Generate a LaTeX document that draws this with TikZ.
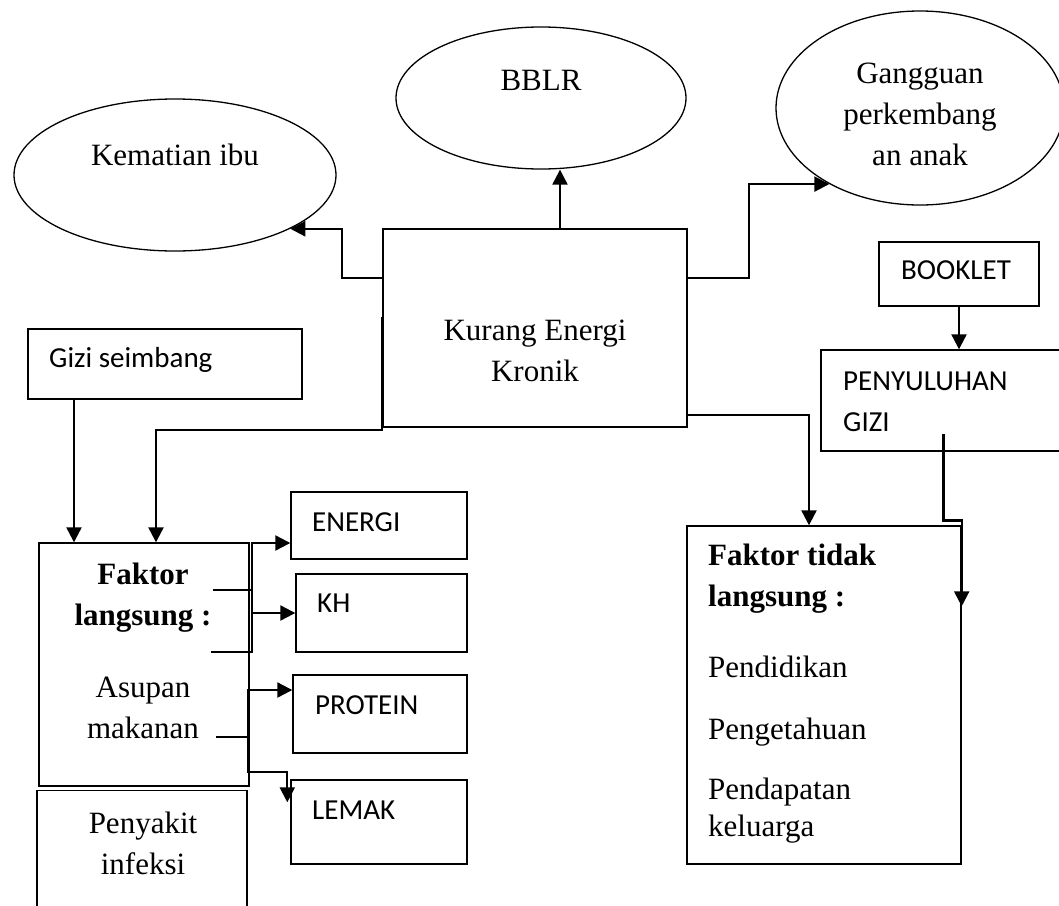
\documentclass[tikz,border=0pt]{standalone}
\usepackage{fontspec}
\setmainfont{Liberation Serif}
\newfontfamily\calibri{Carlito}
\usetikzlibrary{shapes.geometric, arrows.meta, positioning}

\begin{document}
\begin{tikzpicture}[
    x=1pt, y=-1pt,
    oval/.style={draw, ellipse, line width=1.3pt, inner sep=0pt},
    box/.style={draw, line width=1.4pt, inner sep=0pt},
    serif/.style={font=\fontsize{31}{41}\selectfont, align=center, inner sep=0pt},
    boldserif/.style={serif, font=\fontsize{31}{41}\selectfont\bfseries},
    sans/.style={font=\calibri\fontsize{29}{41}\selectfont, align=left, inner sep=0pt, anchor=west},
    link/.style={line width=2.2pt},
    arr/.style={link, -{Triangle[length=15pt, width=15pt]}}
]
    \useasboundingbox (0,0) rectangle (1059,905);
    \clip (0,0) rectangle (1059,905);

    % Akibat
    \node[oval, minimum width=322, minimum height=152] (ibu) at (175,175) {};
    \node[serif] (ibutxt) at (175,155) {Kematian ibu};
    \node[oval, minimum width=290, minimum height=142] (bblr) at (541,98) {};
    \node[serif] (bblrtxt) at (541,80) {BBLR};
    \node[oval, minimum width=288, minimum height=194] (gangguan) at (920,108) {};
    \node[serif] (gangguantxt) at (920,114) {Gangguan\\perkembang\\an anak};

    % KEK
    \node[box, minimum width=304, minimum height=198] (kek) at (535,328) {};
    \node[serif] (kektxt) at (535,351) {Kurang Energi\\Kronik};

    % Intervensi
    \node[box, minimum width=274, minimum height=70] (gizi) at (165,364) {};
    \node[sans] (gizitxt) at (49,360) {Gizi seimbang};
    \node[box, minimum width=160, minimum height=64] (booklet) at (959,274) {};
    \node[sans] (booklettxt) at (901,270) {BOOKLET};
    \node[box, minimum width=259, minimum height=101] (penyuluhan) at (950.5,400.5) {};
    \node[sans] (penyuluhantxt) at (843,402) {PENYULUHAN\\GIZI};

    % Faktor langsung
    \node[box, minimum width=210, minimum height=243] (flang) at (144,664.5) {};
    \node[boldserif] (flangtxt) at (143,598) {Faktor\\langsung :};
    \node[serif] (asupantxt) at (143,708) {Asupan\\makanan};
    \node[box, minimum width=210, minimum height=139] (infeksi) at (142,860) {};
    \node[serif] (infeksitxt) at (143,843) {Penyakit\\infeksi};

    % Zat gizi
    \node[box, minimum width=176, minimum height=67] (energi) at (379,525.5) {};
    \node[sans] (energitxt) at (312,522) {ENERGI};
    \node[box, minimum width=171, minimum height=78] (kh) at (381.5,613) {};
    \node[sans] (khtxt) at (317,603) {KH};
    \node[box, minimum width=174, minimum height=78] (protein) at (380,714) {};
    \node[sans] (proteintxt) at (315,705) {PROTEIN};
    \node[box, minimum width=176, minimum height=84] (lemak) at (379,822) {};
    \node[sans] (lemaktxt) at (312,810) {LEMAK};

    % Faktor tidak langsung
    \node[box, minimum width=274, minimum height=338] (ftl) at (824,695) {};
    \node[boldserif, anchor=west, align=left] (ftltxt) at (708,579) {Faktor tidak\\langsung :};
    \node[serif, anchor=west] (didiktxt) at (708,667) {Pendidikan};
    \node[serif, anchor=west] (tahutxt) at (708,732) {Pengetahuan};
    \node[serif, anchor=west, align=left, font=\fontsize{31}{37}\selectfont] (dapattxt) at (708,811) {Pendapatan\\keluarga};

    % Titik cabang
    \coordinate (s1) at (213,590);
    \coordinate (s2) at (211,652);
    \coordinate (s3) at (216,737);
    \coordinate (j1) at (252,543);
    \coordinate (j2) at (248,690);
    \coordinate (j3) at (248,772);

    % Panah dari KEK
    \draw[arr] ([yshift=50pt]kek.west) -- ++(-40,0) |- (ibu.-25);
    \draw[arr] ([xshift=25pt]kek.north) -- ([xshift=19pt]bblr.south);
    \draw[arr] ([yshift=50pt]kek.east) -- ++(61,0) |- (gangguan.220);
    \draw[arr] ([yshift=-87pt]kek.east) -| ([xshift=-15pt]ftl.north);
    \draw[arr] ([yshift=11pt]kek.west) -- ++(0,113) -| ([xshift=12pt]flang.north);

    % Panah intervensi
    \draw[arr] ([xshift=-91pt]gizi.south) -- ([xshift=-70pt]flang.north);
    \draw[arr] (booklet.south) -- (booklet.south |- penyuluhan.north);
    \draw[arr] ([xshift=-7pt,yshift=-33pt]penyuluhan.center) -- ++(0,87) -| ([yshift=-81pt]ftl.north east);

    % Panah ke zat gizi
    \draw[arr] (s1) -| (j1) -- (j1 -| energi.west);
    \draw[link] (s2) -| (j1);
    \draw[arr] (kh.west -| j1) -- (kh.west);
    \draw[arr] (s3) -| (j2) -- (j2 -| protein.west);
    \draw[arr] (s3 -| j2) -- (j3) -| ([xshift=-3pt,yshift=-23pt]lemak.north west);
\end{tikzpicture}
\end{document}
